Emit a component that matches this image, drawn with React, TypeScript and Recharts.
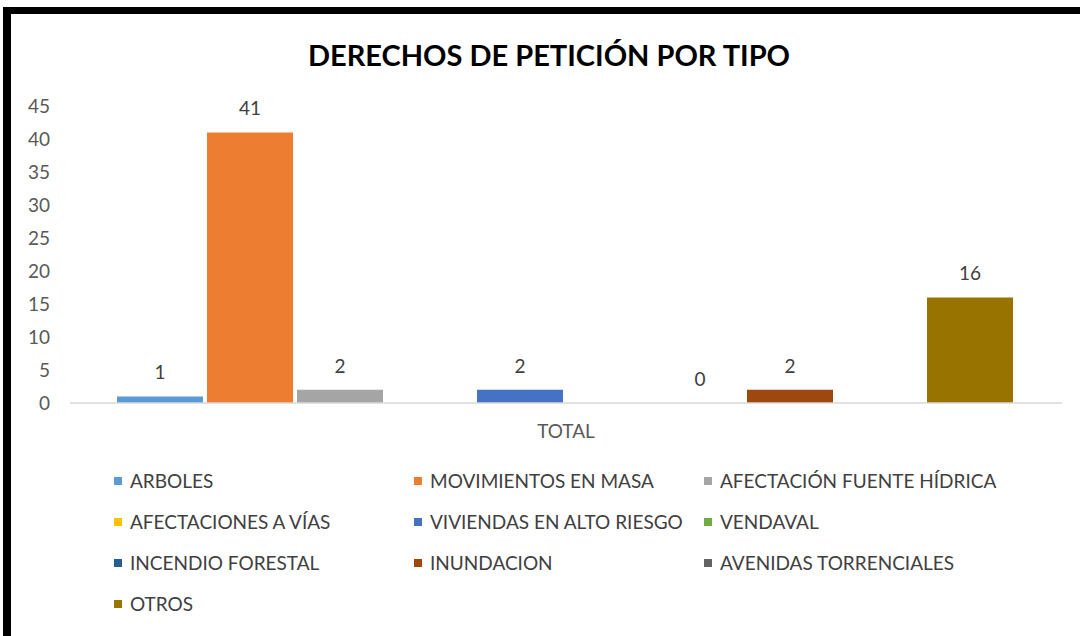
import React from 'react';
import { BarChart, Bar, XAxis, YAxis, LabelList, Legend } from 'recharts';

const categories = ['TOTAL'];

const seriesNames = [
  'ARBOLES',
  'MOVIMIENTOS EN MASA',
  'AFECTACIÓN FUENTE HÍDRICA',
  'AFECTACIONES A VÍAS',
  'VIVIENDAS EN ALTO RIESGO',
  'VENDAVAL',
  'INCENDIO FORESTAL',
  'INUNDACION',
  'AVENIDAS TORRENCIALES',
  'OTROS',
];

// empty series in the source have no value at all (no bar, no label)
const seriesValues: (number | null)[] = [1, 41, 2, null, 2, null, 0, 2, null, 16];

const seriesColors = [
  '#5B9BD5',
  '#ED7D31',
  '#A5A5A5',
  '#FFC000',
  '#4472C4',
  '#70AD47',
  '#255E91',
  '#9E480E',
  '#636363',
  '#997300',
];

const yTicks = [0, 5, 10, 15, 20, 25, 30, 35, 40, 45];

const FONT = 'Lato, "Open Sans", sans-serif';

const data = categories.map((cat) => {
  const row: Record<string, any> = { name: cat };
  seriesNames.forEach((_, i) => {
    row['s' + i] = seriesValues[i];
  });
  return row;
});

// label drawn above each bar, including zero-height ones
const renderTopLabel = (props: any) => {
  const { x, y, width, value } = props;
  if (value === null || value === undefined) return null;
  return (
    <text
      x={Number(x) + Number(width) / 2}
      y={Number(y) - 17}
      textAnchor="middle"
      fill="#404040"
      fontSize={19}
      fontFamily={FONT}
    >
      {value}
    </text>
  );
};

const LegendGrid = () => (
  <div
    style={{
      display: 'grid',
      gridTemplateColumns: '300px 290px 320px',
      paddingLeft: 114,
      fontFamily: FONT,
      fontSize: 19,
      color: '#404040',
    }}
  >
    {seriesNames.map((name, i) => (
      <div key={name} style={{ display: 'flex', alignItems: 'center', height: 41 }}>
        <span
          style={{
            display: 'inline-block',
            width: 8,
            height: 8,
            background: seriesColors[i],
            marginRight: 8,
          }}
        />
        <span>{name}</span>
      </div>
    ))}
  </div>
);

export default function App() {
  return (
    <div
      style={{
        position: 'absolute',
        left: 0,
        top: 0,
        width: 1080,
        height: 636,
        background: '#fff',
        overflow: 'hidden',
      }}
    >
      <div
        style={{
          position: 'absolute',
          left: 3,
          top: 7,
          width: 1100,
          height: 625,
          borderLeft: '8px solid #000',
          borderTop: '7px solid #000',
          borderBottom: '2px solid #d9d9d9',
        }}
      />
      <div
        style={{
          position: 'absolute',
          left: 0,
          top: 37,
          width: 1098,
          textAlign: 'center',
          fontFamily: FONT,
          fontWeight: 700,
          fontSize: 29,
          color: '#000',
        }}
      >
        DERECHOS DE PETICIÓN POR TIPO
      </div>
      <div style={{ position: 'absolute', left: 0, top: 0 }}>
        <BarChart
          width={1080}
          height={636}
          data={data}
          margin={{ top: 106, right: 18, bottom: 203, left: 0 }}
          barCategoryGap={47}
          barGap={4}
        >
          <XAxis
            dataKey="name"
            axisLine={{ stroke: '#d9d9d9', strokeWidth: 1.5 }}
            tickLine={false}
            tickMargin={16}
            tick={{ fill: '#595959', fontSize: 19, fontFamily: FONT }}
          />
          <YAxis
            width={70}
            domain={[0, 45]}
            ticks={yTicks}
            axisLine={false}
            tickLine={false}
            tickMargin={14}
            tick={{ fill: '#595959', fontSize: 19, fontFamily: FONT }}
          />
          <Legend
            layout="horizontal"
            verticalAlign="middle"
            align="center"
            wrapperStyle={{ left: 0, top: 460, width: 1080 }}
            content={() => <LegendGrid />}
          />
          {seriesNames.map((name, i) => (
            <Bar
              key={name}
              dataKey={'s' + i}
              name={name}
              fill={seriesColors[i]}
              minPointSize={seriesValues[i] === 0 ? 0.01 : 0}
              isAnimationActive={false}
            >
              <LabelList dataKey={'s' + i} content={renderTopLabel} />
            </Bar>
          ))}
        </BarChart>
      </div>
    </div>
  );
}
